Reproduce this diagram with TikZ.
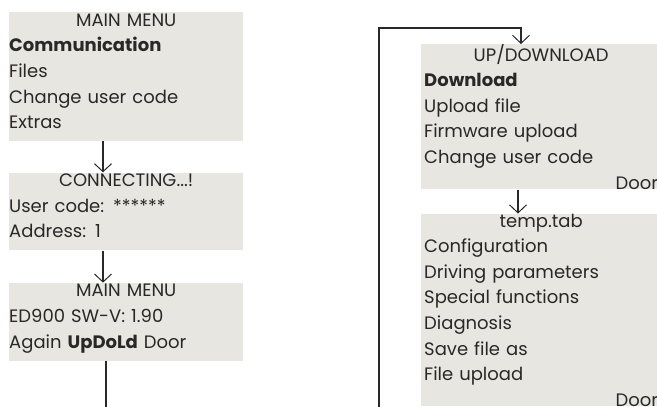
\documentclass[tikz,border=0pt]{standalone}
\usepackage{fontspec}
\setmainfont{Poppins}
\usetikzlibrary{positioning,arrows.meta}
\definecolor{PanelFill}{RGB}{231,230,225}
\definecolor{InkGray}{RGB}{40,40,40}
\newcommand{\hdr}[1]{\makebox[\hsize][c]{#1}}
\newcommand{\rgt}[1]{\makebox[\hsize][r]{#1}}
\newcommand{\btm}{\rule[-11pt]{0pt}{0pt}}

\begin{document}
\begin{tikzpicture}[
    x=1pt, y=-1pt,
    node distance=31pt, % gap between the stacked panels
    panel/.style={
      rectangle,
      fill=PanelFill,
      anchor=north west,
      inner xsep=0pt, inner ysep=1.5pt,
      align=left,
      text width=234pt,
      text=InkGray,
      font=\fontsize{18}{25.6}\selectfont
    },
    rpanel/.style={panel, text width=234pt, inner xsep=3pt, inner ysep=0pt},
    arr/.style={-{Straight Barb[length=8pt,width=17pt,line width=1pt]}, line width=1.1pt, draw=InkGray},
    wire/.style={line width=1.1pt, draw=InkGray}
  ]
    \useasboundingbox (0,0) rectangle (657,407);
    \clip (0,0) rectangle (657,407);

    % Nodes
    \node[panel] (menu) at (9,12) {\hdr{MAIN MENU}\\ \textbf{Communication}\\ Files\\ Change user code\\ Extras\btm};
    \node[panel, below=of menu] (conn) {\hdr{CONNECTING...!}\\ User code: ******\\ Address: 1\btm};
    \node[panel, below=32pt of conn] (ver) {\hdr{MAIN MENU}\\ ED900 SW-V: 1.90\\ Again \textbf{UpDoLd} Door\btm};

    \node[rpanel] (updl) at (421,44) {\hdr{UP/DOWNLOAD}\\ \textbf{Download}\\ Upload file\\ Firmware upload\\ Change user code\\ \rgt{Door}};
    \node[rpanel, below=24pt of updl] (tab) {\hdr{temp.tab}\\ Configuration\\ Driving parameters\\ Special functions\\ Diagnosis\\ Save file as\\ File upload\\ \rgt{Door}};

    \coordinate (leftend) at (106,420);
    \coordinate (rightend) at (379,420);

    % Arrows
    \draw[arr] ([xshift=94pt]menu.south west) -- ([xshift=94pt]conn.north west);
    \draw[arr] ([xshift=94pt]conn.south west) -- ([xshift=94pt]ver.north west);
    \draw[wire] ([xshift=97pt]ver.south west) -- (leftend);
    \draw[arr] (rightend) |- (500,28) -| ([xshift=100pt]updl.north west);
    \draw[arr] ([xshift=97pt]updl.south west) -- ([xshift=97pt]tab.north west);

  \end{tikzpicture}
\end{document}
